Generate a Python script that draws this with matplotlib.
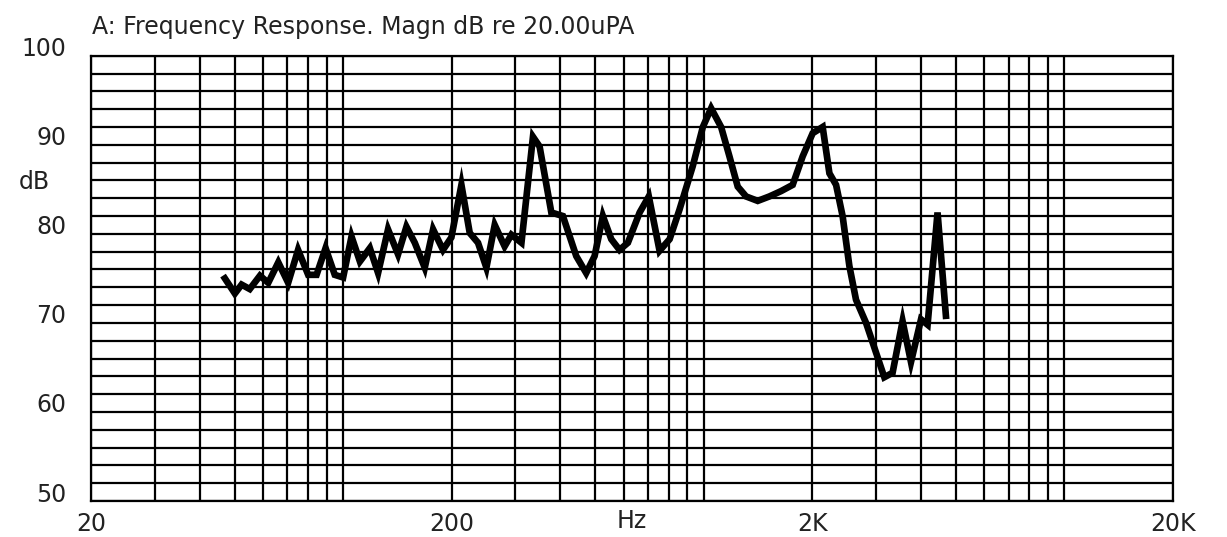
import matplotlib
matplotlib.use("Agg")
import matplotlib.pyplot as plt
from matplotlib.transforms import ScaledTranslation, blended_transform_factory

# response curve (Hz, dB)
freq = [47, 50.1, 52.3, 55.1, 58.8, 62.0, 66.1, 70.4, 75.0, 80.0,
        84.4, 89.4, 94.8, 100, 105.5, 111.3, 118.6, 125.0, 133.2, 142.0,
        149.8, 158.0, 168.4, 177.6, 189.2, 199.6, 212.8, 224.4, 236.6, 249.6,
        263.2, 280.4, 292.8, 312.2, 336, 350.6, 377.8, 406.8, 443, 472,
        498, 525, 554, 584, 616, 664, 704, 754, 804, 856,
        932, 994, 1048, 1117, 1178, 1242, 1310, 1411, 1520, 1638,
        1764, 1880, 2004, 2136, 2230, 2327, 2426, 2533, 2643, 2818,
        3166, 3338, 3558, 3754, 4002, 4174, 4448, 4692]
magn = [75.0, 73.3, 74.3, 73.8, 75.3, 74.5, 76.8, 74.5, 78.2, 75.4,
        75.4, 78.4, 75.4, 75.1, 79.7, 76.9, 78.4, 75.6, 80.5, 77.7,
        80.8, 79.0, 76.2, 80.5, 78.2, 79.6, 85.5, 80.1, 79.0, 76.2,
        81.0, 78.6, 79.9, 79.0, 90.9, 89.8, 82.4, 82.0, 77.5, 75.6,
        77.5, 82.0, 79.4, 78.2, 79.0, 82.4, 84.2, 78.1, 79.4, 82.7,
        87.6, 92.0, 94.1, 92.0, 88.7, 85.3, 84.2, 83.7, 84.2, 84.8,
        85.5, 88.7, 91.3, 92.0, 86.8, 85.5, 82.0, 76.4, 72.6, 70.0,
        63.9, 64.4, 70.2, 65.6, 70.4, 69.8, 82.4, 70.8]

xtick_vals = [20, 200, 2000, 20000]
xtick_labels = ["20", "200", "2K", "20K"]
ytick_vals = [50, 60, 70, 80, 90, 100]
grid_freqs = [20, 30, 40, 50, 60, 70, 80, 90, 100,
              200, 300, 400, 500, 600, 700, 800, 900, 1000,
              2000, 3000, 4000, 5000, 6000, 7000, 8000, 9000, 10000, 20000]
grid_db = list(range(50, 101, 2))

plt.rcParams['font.family'] = ['DejaVu Sans']

fig = plt.figure(figsize=(12.27, 5.37), dpi=100)
ax = fig.add_axes([0.0742, 0.067, 0.8818, 0.8292])

ax.set_xscale('log')
ax.set_xlim(20, 20000)
ax.set_ylim(50, 100)

# grid
for f in grid_freqs:
    ax.axvline(f, color='black', lw=1.6, zorder=1)
for d in grid_db:
    ax.axhline(d, color='black', lw=1.6, zorder=1)

ax.plot(freq, magn, color='black', lw=4.8, solid_joinstyle='miter', zorder=3)

ax.set_xticks(xtick_vals)
ax.set_xticklabels(xtick_labels)
ax.set_xticks([], minor=True)
ax.set_yticks(ytick_vals)
ax.set_yticklabels([str(v) for v in ytick_vals])
ax.tick_params(length=0, labelsize=17, colors='#222222', pad=8)
ax.tick_params(axis='y', pad=18)

# y labels sit a bit above their lines
for lab in ax.get_yticklabels():
    lab.set_transform(lab.get_transform() + ScaledTranslation(0, 0.09, fig.dpi_scale_trans))

for s in ax.spines.values():
    s.set_linewidth(1.6)

# unit label in the x label row
hz_tr = blended_transform_factory(ax.transData, fig.transFigure)
ax.text(630, 1 - 521 / 537, "Hz", transform=hz_tr, ha='center', va='center',
        fontsize=17, color='#222222')
fig.text(50 / 1227, 1 - 182 / 537, "dB", ha='right', va='center', fontsize=17, color='#222222')
fig.text(92 / 1227, 1 - 27 / 537, "A: Frequency Response. Magn dB re 20.00uPA",
         ha='left', va='center', fontsize=17, color='#222222')

fig.savefig("out.png", dpi=100)
